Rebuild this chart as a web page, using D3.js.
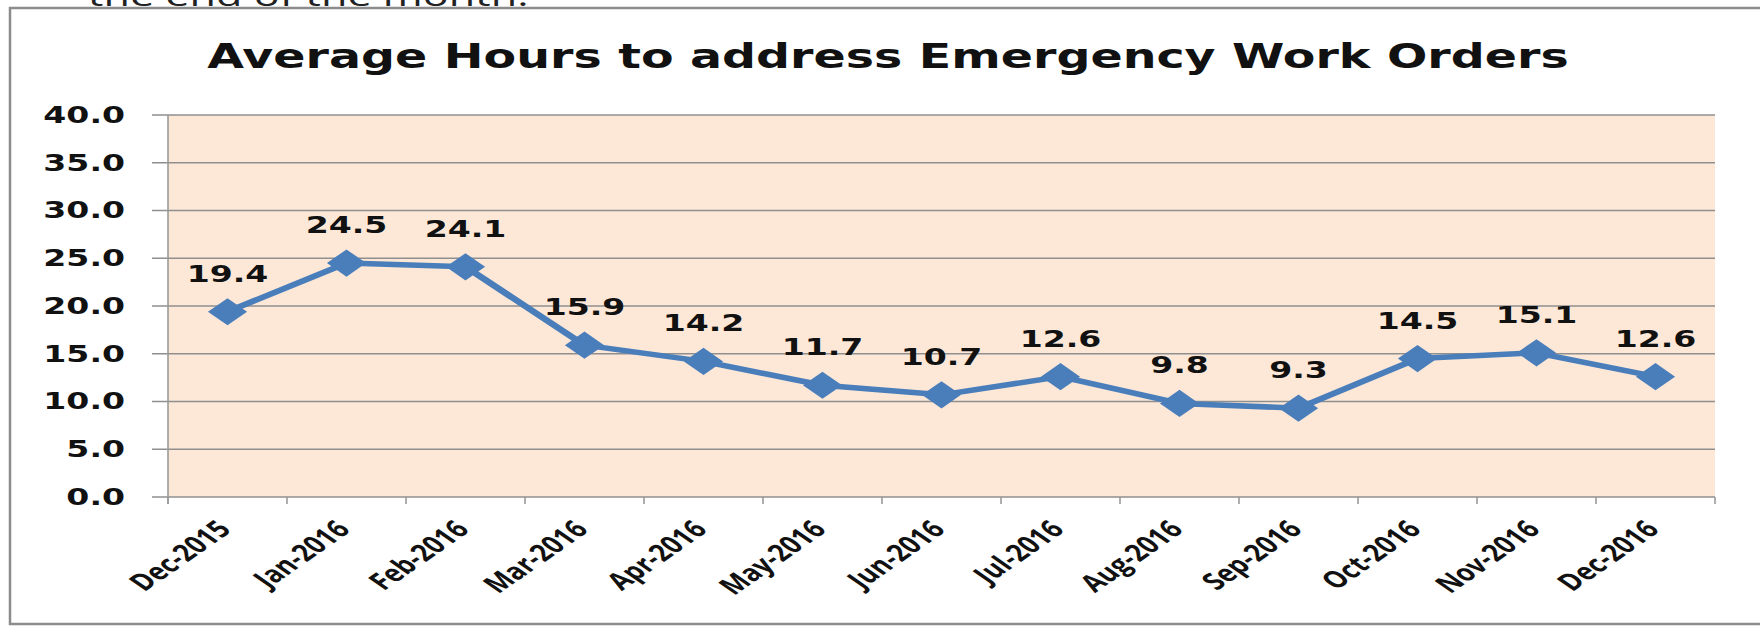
<!DOCTYPE html>
<html>
<head>
<meta charset="utf-8">
<script src="https://cdn.jsdelivr.net/npm/d3@7"></script>
<style>
  html, body { margin: 0; padding: 0; background: #fff; }
  #chart { width: 1760px; height: 626px; overflow: hidden; }
</style>
</head>
<body>
<div id="chart"></div>
<script>
// chart data
const months = ["Dec-2015", "Jan-2016", "Feb-2016", "Mar-2016", "Apr-2016", "May-2016", "Jun-2016",
                "Jul-2016", "Aug-2016", "Sep-2016", "Oct-2016", "Nov-2016", "Dec-2016"];
const hours = [19.4, 24.5, 24.1, 15.9, 14.2, 11.7, 10.7, 12.6, 9.8, 9.3, 14.5, 15.1, 12.6];
const yTicks = [0, 5, 10, 15, 20, 25, 30, 35, 40];
const chartTitle = "Average Hours to address Emergency Work Orders";
const topLine = "the end of the month.";

// the screenshot is stretched sideways, so everything is drawn in a narrow space and scaled on x
const SX = 1.44;
const width = 1760;
const height = 626;

const plotL = 168 / SX, plotR = 1715 / SX;
const plotT = 115, plotB = 497;

const svg = d3.select("#chart")
    .append("svg")
    .attr("width", width)
    .attr("height", height);

svg.append("rect")
    .attr("width", width)
    .attr("height", height)
    .attr("fill", "#fff");

const g = svg.append("g")
    .attr("transform", `scale(${SX},1)`);

const x = d3.scaleBand().domain(months).range([plotL, plotR]).padding(0);
const y = d3.scaleLinear().domain([0, 40]).range([plotB, plotT]);
const cx = d => x(d) + x.bandwidth() / 2;

// text above the chart frame (cut off)
g.append("text")
    .attr("x", 88 / SX)
    .attr("y", 6)
    .attr("fill", "#222")
    .style("font", "30px 'Open Sans'")
    .text(topLine);

// frame
g.append("rect")
    .attr("x", 10 / SX)
    .attr("y", 8)
    .attr("width", 1800 / SX)
    .attr("height", 616)
    .attr("fill", "none")
    .attr("stroke", "#8c8c8c")
    .attr("stroke-width", 2.5)
    .attr("vector-effect", "non-scaling-stroke");

// title
g.append("text")
    .attr("x", 888 / SX)
    .attr("y", 68)
    .attr("text-anchor", "middle")
    .attr("fill", "#111")
    .style("font", "bold 33px 'DejaVu Sans'")
    .text(chartTitle);

// plot area
g.append("rect")
    .attr("x", plotL)
    .attr("y", plotT)
    .attr("width", plotR - plotL)
    .attr("height", plotB - plotT)
    .attr("fill", "#fde8d8");

// gridlines with their little ticks on the left
g.append("g")
    .selectAll("line")
    .data(yTicks)
    .join("line")
    .attr("x1", plotL - 16 / SX)
    .attr("x2", plotR)
    .attr("y1", d => y(d))
    .attr("y2", d => y(d))
    .attr("stroke", "#8f8f8f")
    .attr("stroke-width", 1.6);

// y labels
const yAxis = g.append("g")
    .attr("transform", `translate(${plotL},0)`)
    .call(d3.axisLeft(y).tickValues(yTicks).tickFormat(d3.format(".1f")).tickSize(0).tickPadding(43 / SX));
yAxis.select(".domain").remove();
yAxis.selectAll("text")
    .attr("fill", "#111")
    .style("font", "bold 23px 'DejaVu Sans'");

// axis lines
g.append("line")
    .attr("x1", plotL).attr("x2", plotL)
    .attr("y1", plotT).attr("y2", plotB + 7)
    .attr("stroke", "#9a9a9a")
    .attr("stroke-width", 1.6)
    .attr("vector-effect", "non-scaling-stroke");

g.append("g")
    .selectAll("line")
    .data(d3.range(months.length + 1))
    .join("line")
    .attr("x1", i => plotL + i * x.step())
    .attr("x2", i => plotL + i * x.step())
    .attr("y1", plotB)
    .attr("y2", plotB + 7)
    .attr("stroke", "#9a9a9a")
    .attr("stroke-width", 1.6)
    .attr("vector-effect", "non-scaling-stroke");

// x labels, rotated (squeezed a bit, the original font is narrow)
g.append("g")
    .selectAll("text")
    .data(months)
    .join("text")
    .attr("transform", d => `translate(${cx(d) + 5 / SX},${plotB + 34}) rotate(-45) scale(0.81,1)`)
    .attr("text-anchor", "end")
    .attr("fill", "#111")
    .style("font", "bold 24px 'Open Sans'")
    .text(d => d);

// the line
const line = d3.line()
    .x((d, i) => cx(months[i]))
    .y(d => y(d));

g.append("path")
    .datum(hours)
    .attr("d", line)
    .attr("fill", "none")
    .attr("stroke", "#4a7ebb")
    .attr("stroke-width", 5.5)
    .attr("stroke-linejoin", "round");

// diamond markers
g.append("g")
    .selectAll("path")
    .data(hours)
    .join("path")
    .attr("d", d3.symbol(d3.symbolSquare, 370))
    .attr("transform", (d, i) => `translate(${cx(months[i])},${y(d)}) rotate(45)`)
    .attr("fill", "#4a7ebb");

// value labels
g.append("g")
    .selectAll("text")
    .data(hours)
    .join("text")
    .attr("x", (d, i) => cx(months[i]))
    .attr("y", d => y(d) - 30)
    .attr("text-anchor", "middle")
    .attr("fill", "#111")
    .style("font", "bold 23px 'DejaVu Sans'")
    .text(d => d3.format(".1f")(d));
</script>
</body>
</html>
